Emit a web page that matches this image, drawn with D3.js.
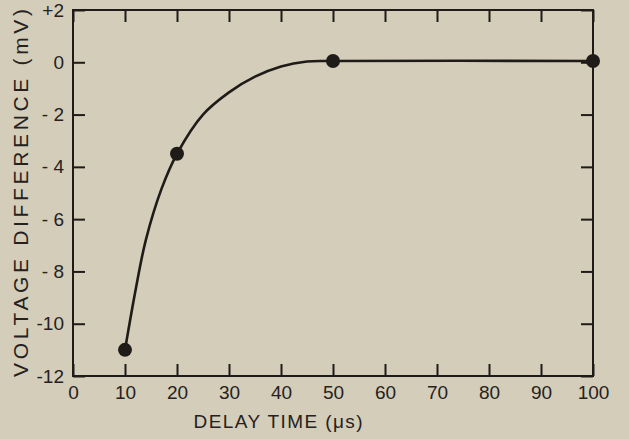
<!DOCTYPE html>
<html>
<head>
<meta charset="utf-8">
<script src="https://cdn.jsdelivr.net/npm/d3@7"></script>
<style>
  html, body { margin: 0; padding: 0; background: #d3cdb9; }
  svg { display: block; }
  text { font-family: "Liberation Sans", "DejaVu Sans", sans-serif; fill: #26211e; }
</style>
</head>
<body>
<svg id="chart" width="629" height="439"></svg>
<script>
// Measured points: delay time (µs) vs voltage difference (mV)
const delayTimes = [10, 20, 50, 100];
const voltageDiffs = [-11.0, -3.5, 0.05, 0.05];

// Smooth hand-drawn trend curve through the measurements
const curveTimes = [10, 12, 14, 17, 20, 25, 30, 35, 40, 45, 50, 100];
const curveVolts = [-11.0, -8.75, -6.8, -4.85, -3.5, -2.0, -1.15, -0.55, -0.16, 0.03, 0.05, 0.05];

// Axis ticks and labels
const xTicks = [0, 10, 20, 30, 40, 50, 60, 70, 80, 90, 100];
const yTicks = [-12, -10, -8, -6, -4, -2, 0, 2];
const yTickLabels = ["-12", "-10", "- 8", "- 6", "- 4", "- 2", "0", "+2"];

const ink = "#1f1b19";
const svg = d3.select("#chart");

const x = d3.scaleLinear().domain([0, 100]).range([73, 593]);
const y = d3.scaleLinear().domain([-12, 2]).range([376, 10]);

const tickLen = 12;

function styleAxis(g) {
  g.select(".domain").remove();
  g.selectAll(".tick line").attr("stroke", ink).attr("stroke-width", 2);
  g.selectAll(".tick text")
    .attr("font-size", 19)
    .attr("fill", "#26211e");
}

// Bottom axis: inward ticks with labels
svg.append("g")
  .attr("transform", `translate(0,${y(-12)})`)
  .call(d3.axisBottom(x).tickValues(xTicks).tickSize(-tickLen).tickPadding(10))
  .call(styleAxis);

// Top axis: inward ticks only
svg.append("g")
  .attr("transform", `translate(0,${y(2)})`)
  .call(d3.axisTop(x).tickValues(xTicks).tickSize(-tickLen).tickFormat(""))
  .call(styleAxis);

// Left axis: inward ticks with labels
svg.append("g")
  .attr("transform", `translate(${x(0)},0)`)
  .call(d3.axisLeft(y).tickValues(yTicks).tickSize(-tickLen).tickPadding(9)
    .tickFormat((d, i) => yTickLabels[i]))
  .call(styleAxis);

// Right axis: inward ticks only
svg.append("g")
  .attr("transform", `translate(${x(100)},0)`)
  .call(d3.axisRight(y).tickValues(yTicks).tickSize(-tickLen).tickFormat(""))
  .call(styleAxis);

// Frame
svg.append("rect")
  .attr("x", x(0)).attr("y", y(2))
  .attr("width", x(100) - x(0)).attr("height", y(-12) - y(2))
  .attr("fill", "none").attr("stroke", ink).attr("stroke-width", 2);

// Trend curve
const line = d3.line()
  .x((d, i) => x(curveTimes[i]))
  .y((d, i) => y(curveVolts[i]))
  .curve(d3.curveCatmullRom.alpha(0.5));

svg.append("path")
  .datum(curveTimes)
  .attr("d", line)
  .attr("fill", "none")
  .attr("stroke", ink)
  .attr("stroke-width", 2.6);

// Data points
svg.append("g")
  .selectAll("circle")
  .data(delayTimes)
  .join("circle")
  .attr("cx", d => x(d))
  .attr("cy", (d, i) => y(voltageDiffs[i]))
  .attr("r", 7)
  .attr("fill", ink);

// Axis titles
svg.append("text")
  .attr("x", 278).attr("y", 428)
  .attr("text-anchor", "middle")
  .attr("font-size", 19)
  .attr("textLength", 169)
  .attr("lengthAdjust", "spacing")
  .text("DELAY TIME (μs)");

svg.append("text")
  .attr("transform", "translate(28,193) rotate(-90)")
  .attr("text-anchor", "middle")
  .attr("font-size", 21)
  .attr("textLength", 368)
  .attr("lengthAdjust", "spacing")
  .text("VOLTAGE DIFFERENCE (mV)");
</script>
</body>
</html>
